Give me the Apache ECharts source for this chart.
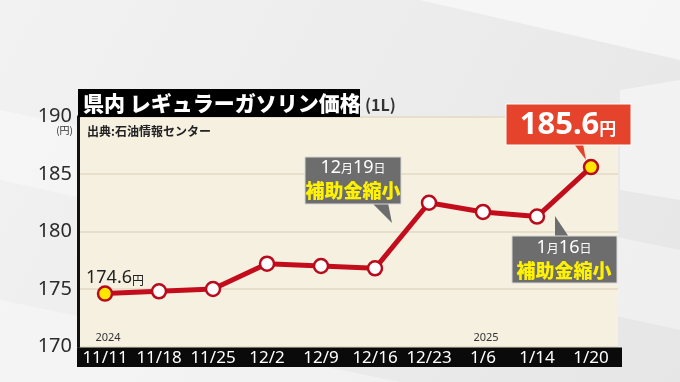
<!DOCTYPE html>
<html><head><meta charset="utf-8">
<script src="https://cdn.jsdelivr.net/npm/echarts@6/dist/echarts.min.js"></script>
<style>html,body{margin:0;padding:0;background:#ececec}#c{width:680px;height:382px}</style>
</head><body><div id="c"></div>
<script>
const categories = ['11/11','11/18','11/25','12/2','12/9','12/16','12/23','1/6','1/14','1/20'];
const prices = [174.6, 174.8, 175.0, 177.2, 177.0, 176.8, 182.5, 181.7, 181.3, 185.6];
const yTicks = [170, 175, 180, 185, 190];
const titleText = '県内 レギュラーガソリン価格';
const JP = '"Noto Sans CJK JP", "Noto Sans", sans-serif';

const chart = echarts.init(document.getElementById('c'), null, {renderer:'canvas'});
const dataItems = prices.map((v,i)=>({
  value: v,
  itemStyle: (i===0 || i===prices.length-1) ? {color:'#ffe600'} : undefined
}));
chart.setOption({
  animation:false,
  backgroundColor: {type:'linear',x:0,y:0,x2:1,y2:1,colorStops:[{offset:0,color:'#f2f2f2'},{offset:1,color:'#e6e6e6'}]},
  grid:{left:78,right:62,top:116.5,bottom:35.5,show:true,backgroundColor:'#f5f0e0',borderWidth:0},
  xAxis:{type:'category',data:categories,boundaryGap:true,z:50,
    axisLine:{show:false},axisTick:{show:false},
    axisLabel:{interval:0,color:'#ffffff',fontSize:17,margin:3,fontFamily:'"Liberation Sans Narrow", "Noto Sans", sans-serif'}},
  yAxis:{type:'value',min:170,max:190,interval:5,
    axisLine:{show:true,lineStyle:{color:'#111',width:3}},
    axisTick:{show:false},
    axisLabel:{color:'#2b2b2b',fontSize:20,margin:6,fontFamily:'"Noto Sans", sans-serif',verticalAlign:'middle'},
    splitLine:{show:true,lineStyle:{color:'#e2dac4',width:1.5}}},
  series:[{type:'line',data:dataItems,symbol:'circle',symbolSize:14,
    lineStyle:{color:'#c40d1c',width:5},
    itemStyle:{color:'#ffffff',borderColor:'#b80c1c',borderWidth:2.5},
    z:5}],
  graphic:[
    // background streaks
    {type:'polygon',z:-10,silent:true,shape:{points:[[200,0],[680,0],[680,60],[420,0]]},style:{fill:'rgba(255,255,255,0.55)'}},
    {type:'polygon',z:-10,silent:true,shape:{points:[[0,110],[0,180],[680,330],[680,250]]},style:{fill:'rgba(255,255,255,0.35)'}},
    {type:'polygon',z:-10,silent:true,shape:{points:[[0,300],[0,382],[400,382]]},style:{fill:'rgba(255,255,255,0.35)'}},
    {type:'polygon',z:-10,silent:true,shape:{points:[[620,90],[680,80],[680,200],[620,190]]},style:{fill:'rgba(255,255,255,0.45)'}},
    // x axis black band
    {type:'rect',z:1,silent:true,shape:{x:77,y:347.5,width:545,height:19.5},style:{fill:'#0a0a0a'}},
    // title box
    {type:'rect',z:10,shape:{x:78,y:89,width:282,height:28},style:{fill:'#000'}},
    {type:'text',z:11,style:{x:83,y:103,text:titleText,fill:'#fff',font:'900 21px '+JP,verticalAlign:'middle'}},
    {type:'text',z:11,style:{x:365,y:105,text:'(1L)',fill:'#333',font:'bold 16px '+JP,verticalAlign:'middle'}},
    {type:'text',z:11,style:{x:87,y:131,text:'出典:石油情報センター',fill:'#222',font:'bold 12px '+JP,verticalAlign:'middle'}},
    {type:'text',z:11,style:{x:73,y:130,text:'(円)',fill:'#333',font:'10px '+JP,align:'right',verticalAlign:'middle'}},
    {type:'text',z:11,style:{x:108,y:338,text:'2024',fill:'#333',font:'11px "Noto Sans", sans-serif',align:'center',verticalAlign:'middle'}},
    {type:'text',z:11,style:{x:486,y:338,text:'2025',fill:'#333',font:'11px "Noto Sans", sans-serif',align:'center',verticalAlign:'middle'}},
    // 174.6 label
    {type:'text',z:11,style:{x:86,y:278,text:'{a|174.6}{b|円}',verticalAlign:'middle',
      rich:{a:{fontSize:18,fill:'#222',fontFamily:'"Noto Sans", sans-serif'},b:{fontSize:12,fill:'#222',fontFamily:JP,padding:[4,0,0,0]}}}},
    // 12/19 callout
    {type:'polygon',z:12,shape:{points:[[372,203],[388,203],[392,223]]},style:{fill:'#6d6d6d'}},
    {type:'rect',z:12,shape:{x:305,y:157,width:96,height:47},style:{fill:'#6d6d6d',stroke:'#d8d8d8',lineWidth:1}},
    {type:'text',z:13,style:{x:353,y:168,text:'{n|12}{s|月}{n|19}{s|日}',align:'center',verticalAlign:'middle',
      rich:{n:{fontSize:18,fill:'#fff',fontFamily:'"Noto Sans", sans-serif'},s:{fontSize:12,fill:'#fff',fontFamily:JP}}}},
    {type:'text',z:13,style:{x:353,y:191,text:'補助金縮小',fill:'#fff200',font:'900 19px '+JP,align:'center',verticalAlign:'middle'}},
    // 1/16 callout
    {type:'polygon',z:12,shape:{points:[[555,237],[569,237],[555,216]]},style:{fill:'#6d6d6d'}},
    {type:'rect',z:12,shape:{x:512,y:236,width:105,height:47},style:{fill:'#6d6d6d',stroke:'#d8d8d8',lineWidth:1}},
    {type:'text',z:13,style:{x:564,y:248,text:'{n|1}{s|月}{n|16}{s|日}',align:'center',verticalAlign:'middle',
      rich:{n:{fontSize:18,fill:'#fff',fontFamily:'"Noto Sans", sans-serif'},s:{fontSize:12,fill:'#fff',fontFamily:JP}}}},
    {type:'text',z:13,style:{x:564,y:271,text:'補助金縮小',fill:'#fff200',font:'900 19px '+JP,align:'center',verticalAlign:'middle'}},
    // 185.6 red box
    {type:'polygon',z:12,shape:{points:[[574,144],[583,144],[586,160]]},style:{fill:'#e5432b'}},
    {type:'rect',z:12,shape:{x:506,y:104,width:125,height:41},style:{fill:'#e5432b',stroke:'#ffffff',lineWidth:1}},
    {type:'text',z:13,style:{x:568,y:125,text:'{a|185.6}{b|円}',align:'center',verticalAlign:'middle',
      rich:{a:{fontSize:31,fontWeight:'bold',fill:'#fff',fontFamily:'"Noto Sans", sans-serif'},b:{fontSize:17,fontWeight:'bold',fill:'#fff',fontFamily:JP,padding:[8,0,0,0]}}}}
  ]
});
</script></body></html>
